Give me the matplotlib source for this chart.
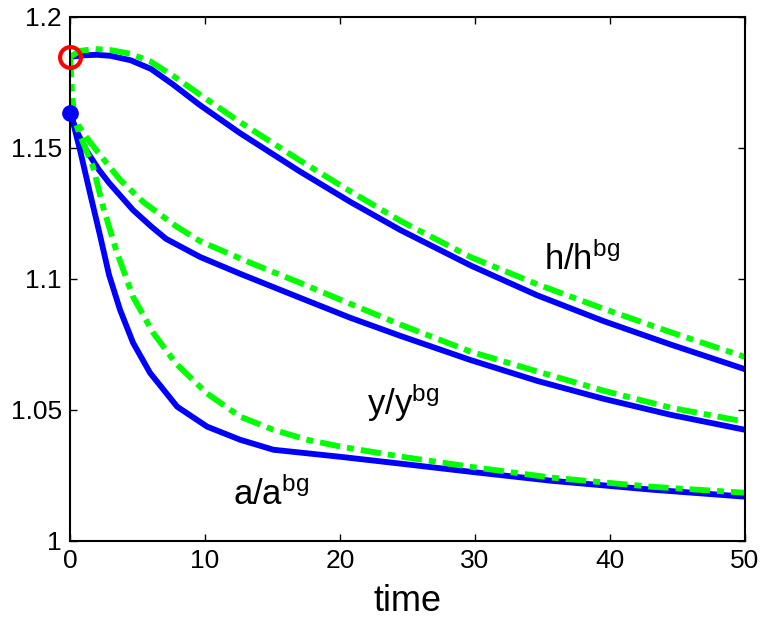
import matplotlib
matplotlib.use("Agg")
import matplotlib.pyplot as plt

plt.rcParams['font.family'] = ['Liberation Sans', 'DejaVu Sans']
plt.rcParams['mathtext.fontset'] = 'custom'
plt.rcParams['mathtext.rm'] = 'Liberation Sans'
plt.rcParams['mathtext.it'] = 'Liberation Sans'

# h / h^bg
t_h = [0, 1, 2, 3, 4.5, 6, 7.6, 9.6, 12.6, 17, 20.8, 24.5, 29.7, 34.6, 39.5, 44.5, 50]
h_blue = [1.1846, 1.1852, 1.1854, 1.1850, 1.1833, 1.1800, 1.1742, 1.1663, 1.1555, 1.1410,
          1.1292, 1.1185, 1.1050, 1.0937, 1.0839, 1.0749, 1.0655]
t_hg = [0, 0.74, 1.85, 3, 4.45, 5.9, 7.6, 9.6, 12.6, 17, 20.8, 24.5, 29.7, 34.6, 39.5, 44.5, 50]
h_green = [1.1846, 1.1869, 1.1876, 1.1872, 1.1858, 1.1830, 1.1775, 1.1703, 1.1597, 1.1452,
           1.1332, 1.1220, 1.1082, 1.0979, 1.0886, 1.0796, 1.0702]

# y / y^bg
t_y = [0, 0.45, 1.19, 2.15, 2.9, 4.67, 6.0, 7.12, 9.64, 12.6, 17.06, 20.77, 24.48, 29.67,
       34.64, 39.54, 44.51, 50]
y_blue = [1.1633, 1.1567, 1.1491, 1.1415, 1.1365, 1.1262, 1.1200, 1.1152, 1.1083, 1.1019,
          1.0927, 1.0851, 1.0782, 1.0690, 1.0610, 1.0542, 1.0481, 1.0424]
t_yg = [0, 0.15, 0.3, 0.59, 1.19, 2.23, 3.71, 5.42, 7.86, 9.64, 13.35, 17.06, 20.77, 24.48,
        29.67, 34.64, 39.54, 44.51, 50]
y_green = [1.1846, 1.1701, 1.1633, 1.1587, 1.1541, 1.1472, 1.1377, 1.1293, 1.1200, 1.1143,
           1.1061, 1.0984, 1.0904, 1.0825, 1.0722, 1.0646, 1.0573, 1.0508, 1.0455]

# a / a^bg
t_a = [0, 0.22, 0.74, 1.48, 2.23, 2.89, 3.71, 4.67, 5.93, 7.94, 10.16, 12.61, 15.06, 20.03,
       24.48, 29.67, 35.6, 43.03, 50]
a_blue = [1.1633, 1.1598, 1.1491, 1.1327, 1.1164, 1.1015, 1.0881, 1.0756, 1.0641, 1.0512,
          1.0436, 1.0386, 1.0348, 1.0321, 1.0295, 1.0264, 1.0230, 1.0196, 1.0169]
t_ag = [0, 0.15, 0.3, 0.74, 1.71, 2.45, 3.41, 4.67, 6.16, 7.86, 10.16, 12.61, 15.06, 17.58,
        20.03, 24.48, 29.67, 35.6, 43.03, 50]
a_green = [1.1846, 1.1682, 1.1613, 1.1548, 1.1426, 1.1274, 1.1110, 1.0931, 1.0794, 1.0676,
           1.0562, 1.0474, 1.0424, 1.0386, 1.0360, 1.0322, 1.0283, 1.0242, 1.0207, 1.0184]

start_open = 1.1846
start_filled = 1.1633

x_ticks = [0, 10, 20, 30, 40, 50]
y_ticks = [1, 1.05, 1.1, 1.15, 1.2]
y_ticklabels = ['1', '1.05', '1.1', '1.15', '1.2']

fig = plt.figure(figsize=(7.63, 6.19), dpi=100)
ax = fig.add_axes([70/763, 78/619, 675/763, 524.5/619])

blue = '#0000FF'
green = '#00FF00'
lw = 4.2
dd = (0, (3.5, 1.2, 1.2, 1.2))

for tt, vv in [(t_h, h_blue), (t_y, y_blue), (t_a, a_blue)]:
    ax.plot(tt, vv, color=blue, lw=lw, solid_capstyle='butt', solid_joinstyle='round')
for tt, vv in [(t_hg, h_green), (t_yg, y_green), (t_ag, a_green)]:
    ax.plot(tt, vv, color=green, lw=lw, linestyle=dd)

ax.plot([0], [start_filled], 'o', color=blue, markersize=11, clip_on=False, zorder=5)
ax.plot([0], [start_open], 'o', markerfacecolor='none', markeredgecolor='#FF0000',
        markersize=15, markeredgewidth=3, clip_on=False, zorder=6)

ax.set_xlim(0, 50)
ax.set_ylim(1, 1.2)
ax.set_xticks(x_ticks)
ax.set_yticks(y_ticks)
ax.set_yticklabels(y_ticklabels)
ax.tick_params(direction='in', length=5, width=1, top=True, right=True,
               labelsize=19, pad=6)
for s in ax.spines.values():
    s.set_linewidth(1.5)

ax.set_xlabel('time', fontsize=26, labelpad=8)

ax.text(35.1, 1.1034, r'h/h$^{\mathrm{bg}}$', fontsize=25, ha='left', va='baseline')
ax.text(22.0, 1.0481, r'y/y$^{\mathrm{bg}}$', fontsize=25, ha='left', va='baseline')
ax.text(12.1, 1.0139, r'a/a$^{\mathrm{bg}}$', fontsize=25, ha='left', va='baseline')

fig.savefig('out.png', dpi=100)
